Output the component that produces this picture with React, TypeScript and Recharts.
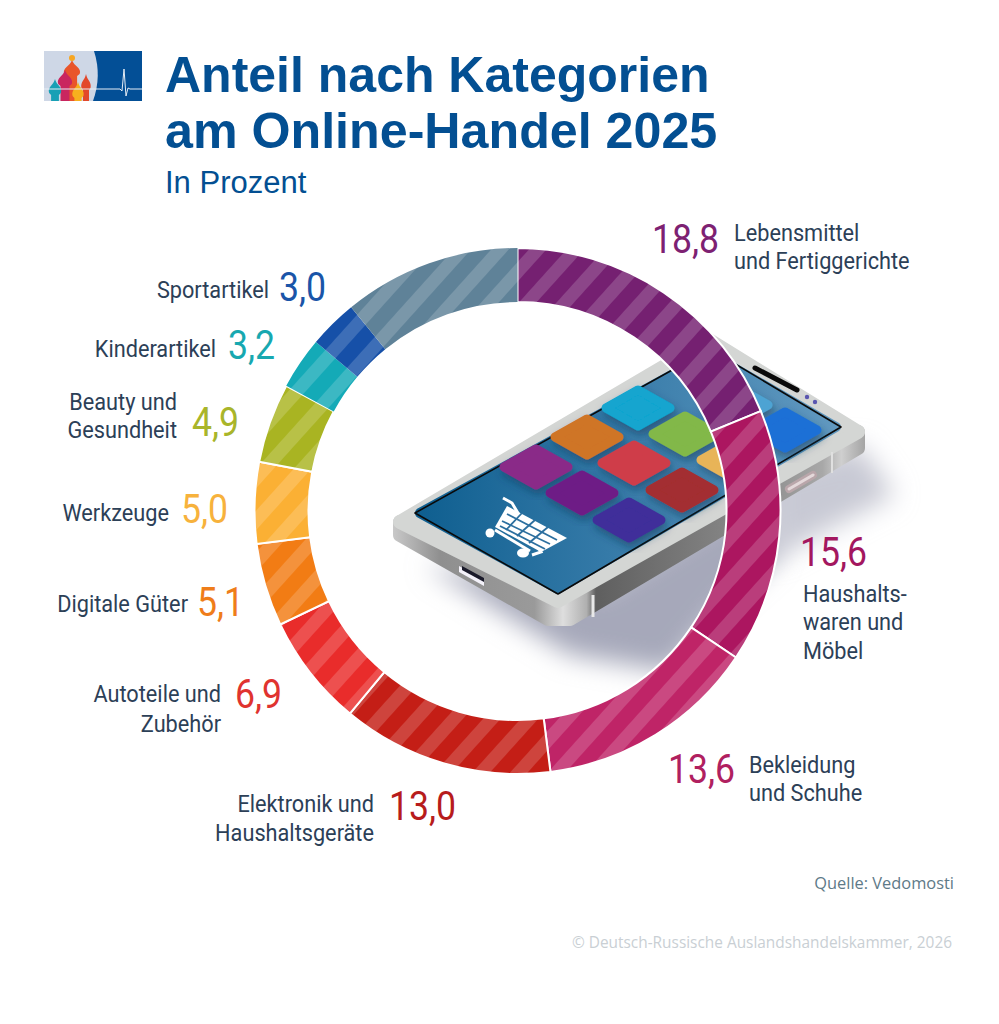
import React from "react";
import { PieChart, Pie, Cell } from "recharts";

const categories = [
  "Lebensmittel und Fertiggerichte",
  "Haushaltswaren und Möbel",
  "Bekleidung und Schuhe",
  "Elektronik und Haushaltsgeräte",
  "Autoteile und Zubehör",
  "Digitale Güter",
  "Werkzeuge",
  "Beauty und Gesundheit",
  "Kinderartikel",
  "Sportartikel",
  "Sonstige",
];
const values = [18.8, 15.6, 13.6, 13.0, 6.9, 5.1, 5.0, 4.9, 3.2, 3.0, 10.9];
const colors = ["#752071", "#ac1660", "#bf2467", "#c41e16", "#e92c2b", "#f27c14", "#fbb034", "#a9b422", "#14aab7", "#1650a8", "#5f8298"];
const numberColors = ["#7d2172", "#a3175f", "#b0205f", "#b71c1c", "#e0332f", "#ef7d1a", "#f7b23c", "#a9b52a", "#17a8b0", "#1a55a8"];
const whiteEdge = [true, true, true, true, true, true, true, true, false, false, false];

const data = categories.map((name, i) => ({ name, value: values[i] }));

// label placement, same order as categories
const labelLayout = [
  { nx: 652, ny: 253, tx: 734, anchor: "start", lines: [["Lebensmittel", 241], ["und Fertiggerichte", 269]] },
  { nx: 800, ny: 566, tx: 803, anchor: "start", lines: [["Haushalts-", 602], ["waren und", 630], ["Möbel", 659]] },
  { nx: 668, ny: 783, tx: 749, anchor: "start", lines: [["Bekleidung", 773], ["und Schuhe", 801]] },
  { nx: 389, ny: 820, tx: 374, anchor: "end", lines: [["Elektronik und", 812], ["Haushaltsgeräte", 841]] },
  { nx: 235, ny: 708, tx: 221, anchor: "end", lines: [["Autoteile und", 702], ["Zubehör", 732]] },
  { nx: 197, ny: 616, tx: 188, anchor: "end", lines: [["Digitale Güter", 612]] },
  { nx: 181, ny: 523, tx: 169, anchor: "end", lines: [["Werkzeuge", 521]] },
  { nx: 192, ny: 436, tx: 177, anchor: "end", lines: [["Beauty und", 410], ["Gesundheit", 438]] },
  { nx: 228, ny: 359, tx: 216, anchor: "end", lines: [["Kinderartikel", 357]] },
  { nx: 279, ny: 301, tx: 269, anchor: "end", lines: [["Sportartikel", 298]] },
];

// phone app tiles
const tiles = [
  ["#4da3d3", 736, 405],
  ["#12a5cf", 638, 408],
  ["#cf7428", 587, 437],
  ["#82b848", 685, 434],
  ["#1c6fd6", 785, 430],
  ["#8a2a88", 536, 467],
  ["#cf3d4a", 634, 463],
  ["#e8b458", 733, 460],
  ["#6e1f86", 582, 493],
  ["#a32f30", 682, 490],
  ["#3f2f9a", 629, 520],
] as const;

// logo domes: colour, centre x, top y, width
const domes = [
  ["#e9552a", 72, 60, 17],
  ["#c9265f", 65, 70, 15],
  ["#18a0b5", 55, 79, 13],
  ["#e2482b", 86, 74, 10],
  ["#f7b01e", 78, 82, 12],
] as const;

const LABEL_FONT = "Roboto, sans-serif";

function Phone() {
  return (
    <svg width={999} height={1024} style={{ position: "absolute", left: 0, top: 0 }}>
      <defs>
        <filter id="blur" x="-30%" y="-30%" width="160%" height="160%">
          <feGaussianBlur stdDeviation="13" />
        </filter>
        <filter id="tileShadow" x="-30%" y="-30%" width="160%" height="170%">
          <feDropShadow dx="2" dy="5" stdDeviation="4" floodColor="#123a5c" floodOpacity="0.55" />
        </filter>
        <linearGradient id="screen" x1="0" y1="0" x2="1" y2="0">
          <stop offset="0" stopColor="#0f5f90" />
          <stop offset="0.45" stopColor="#357aa8" />
          <stop offset="1" stopColor="#6199c0" />
        </linearGradient>
        <linearGradient id="body" gradientUnits="userSpaceOnUse" x1={393} y1={0} x2={865} y2={0}>
          <stop offset="0" stopColor="#c8c8c8" />
          <stop offset="0.1" stopColor="#8f8f8f" />
          <stop offset="0.3" stopColor="#9a9a9a" />
          <stop offset="0.36" stopColor="#dedede" />
          <stop offset="0.41" stopColor="#b0b0b0" />
          <stop offset="0.43" stopColor="#5f5f5f" />
          <stop offset="0.8" stopColor="#909090" />
          <stop offset="0.91" stopColor="#a8a8a8" />
          <stop offset="0.95" stopColor="#cfcfcf" />
          <stop offset="1" stopColor="#a4a4a4" />
        </linearGradient>
      </defs>
      <polygon points="425,565 570,655 670,672 730,600 775,560 790,470 600,590" fill="#a6a8ba" filter="url(#blur)" />
      <polygon points="770,560 895,495 860,445 770,470" fill="#c8c9d4" filter="url(#blur)" />
      <polygon points="400,522 400,535 548,619 570,619 858,448 858,432 570,590" fill="url(#body)" stroke="url(#body)" strokeWidth={14} strokeLinejoin="round" />
      <polygon points="400,522 558,601 858,432 709,340" fill="#d4d6d4" stroke="#d4d6d4" strokeWidth={14} strokeLinejoin="round" />
      <polygon points="420,513 558,589 836,427 710,354" fill="url(#screen)" stroke="url(#screen)" strokeWidth={10} strokeLinejoin="round" />
      <polygon points="415,513 558,594 841,427 710,349" fill="none" stroke="#0a0a0a" strokeWidth={1.6} strokeLinejoin="round" />
      {tiles.map(([fill, x, y]) => (
        <polygon
          key={fill}
          points={`${x - 32},${y} ${x},${y - 18} ${x + 32},${y} ${x},${y + 18}`}
          fill={fill}
          stroke={fill}
          strokeWidth={9}
          strokeLinejoin="round"
          filter="url(#tileShadow)"
        />
      ))}
      <line x1={755} y1={368} x2={797} y2={390} stroke="#0a0a0a" strokeWidth={5} strokeLinecap="round" />
      <circle cx={807} cy={397} r={2.2} fill="#5b56b0" />
      <circle cx={815} cy={402} r={2.2} fill="#5b56b0" />
      <line x1={789} y1={489} x2={813} y2={475} stroke="#b9a6aa" strokeWidth={8} strokeLinecap="round" />
      <line x1={789} y1={489} x2={813} y2={475} stroke="#e4d8da" strokeWidth={3} strokeLinecap="round" />
      <line x1={593} y1={595} x2={593} y2={617} stroke="#e8e8e8" strokeWidth={3} />
      <line x1={832} y1={452} x2={832} y2={473} stroke="#e0e0e0" strokeWidth={2} />
      <polygon points="459,566 484,580 484,586 459,572" fill="#f4f2fa" />
      <polygon points="462,566 484,578 484,582 462,570" fill="#1a1a2a" />
      {/* cart */}
      <polygon points="507,506 567,538 541,552 495,527" fill="#ffffff" />
      <polyline points="503,498 512,503 541,552 532,555" fill="none" stroke="#fff" strokeWidth={3} />
      <polyline points="495,530 530,551" fill="none" stroke="#fff" strokeWidth={3} />
      <circle cx={490} cy={533} r={4.5} fill="#fff" />
      <ellipse cx={523} cy={553} rx={6} ry={4.5} fill="#fff" />
      <g stroke="#2c6f9f" strokeWidth={1.8}>
        <line x1={507} y1={514} x2={557} y2={540} />
        <line x1={502} y1={521} x2={550} y2={544} />
        <line x1={500} y1={526} x2={545} y2={549} />
        <line x1={522} y1={513} x2={506} y2={530} />
        <line x1={535} y1={520} x2={517} y2={536} />
        <line x1={548} y1={527} x2={529} y2={543} />
      </g>
    </svg>
  );
}

function Logo() {
  return (
    <svg width={999} height={1024} style={{ position: "absolute", left: 0, top: 0 }}>
      <rect x={44} y={51} width={98} height={50} fill="#034f96" />
      <path d="M44 51 H94 Q102 76 93 101 H44 Z" fill="#ced7e6" />
      {domes.map(([fill, cx, top, w]) => (
        <path
          key={cx}
          d={`M${cx} ${top} C${cx + w * 0.1} ${top + 6} ${cx + w * 0.6} ${top + 8} ${cx + w * 0.45} ${top + 14} L${cx + w * 0.3} ${top + 16} V101 H${cx - w * 0.3} V${top + 16} L${cx - w * 0.45} ${top + 14} C${cx - w * 0.6} ${top + 8} ${cx - w * 0.1} ${top + 6} ${cx} ${top} Z`}
          fill={fill}
        />
      ))}
      <circle cx={72} cy={58} r={3} fill="#f6a623" />
      <polyline points="44,89 120,89 122,91 124,69 126,96 128,88 130,89 142,89" fill="none" stroke="#e6edf5" strokeWidth={1} />
    </svg>
  );
}

export default function App() {
  return (
    <div style={{ position: "absolute", left: 0, top: 0, width: 999, height: 1024, background: "#fff", overflow: "hidden" }}>
      <Logo />
      <Phone />
      <div style={{ position: "absolute", left: 0, top: 0 }}>
        <PieChart width={999} height={1024} margin={{ top: 0, right: 0, bottom: 0, left: 0 }}>
          <defs>
            {colors.map((c, i) => (
              <pattern key={c} id={`stripe-${i}`} patternUnits="userSpaceOnUse" width={28} height={28} patternTransform="rotate(-48)">
                <rect width={28} height={28} fill={c} />
                <rect width={28} height={13} fill="#ffffff" fillOpacity={0.17} />
              </pattern>
            ))}
          </defs>
          <Pie
            data={data}
            dataKey="value"
            nameKey="name"
            cx={517.5}
            cy={511}
            innerRadius={209}
            outerRadius={263}
            startAngle={90}
            endAngle={-270}
            isAnimationActive={false}
            label={false}
            labelLine={false}
          >
            {data.map((d, i) => (
              <Cell
                key={d.name}
                fill={`url(#stripe-${i})`}
                stroke={whiteEdge[i] ? "#ffffff" : "none"}
                strokeWidth={2}
              />
            ))}
          </Pie>
        </PieChart>
      </div>
      <svg width={999} height={1024} style={{ position: "absolute", left: 0, top: 0 }}>
        <g fontFamily="'Liberation Sans', Arial, sans-serif" fill="#034f92">
          <text x={165} y={92} fontSize={50} fontWeight={700}>Anteil nach Kategorien</text>
          <text x={165} y={148} fontSize={50.2} fontWeight={700}>am Online-Handel 2025</text>
          <text x={165} y={193} fontSize={31}>In Prozent</text>
        </g>
        {labelLayout.map((l, i) => (
          <g key={categories[i]} fontFamily={LABEL_FONT}>
            <text transform={`translate(${l.nx} ${l.ny}) scale(0.89 1)`} fontSize={40} fill={numberColors[i]}>
              {values[i].toFixed(1).replace(".", ",")}
            </text>
            {l.lines.map(([t, y]) => (
              <text key={t as string} transform={`translate(${l.tx} ${y}) scale(0.905 1)`} fontSize={24} fill="#2c4057" textAnchor={l.anchor as "start" | "end"}>
                {t}
              </text>
            ))}
          </g>
        ))}
        <g fontFamily="'Open Sans', 'Noto Sans', sans-serif" textAnchor="end">
          <text x={954} y={889} fontSize={16.4} fill="#5e7a88">Quelle: Vedomosti</text>
          <text x={952} y={948} fontSize={15.4} fill="#c9cfd4">© Deutsch-Russische Auslandshandelskammer, 2026</text>
        </g>
      </svg>
    </div>
  );
}
